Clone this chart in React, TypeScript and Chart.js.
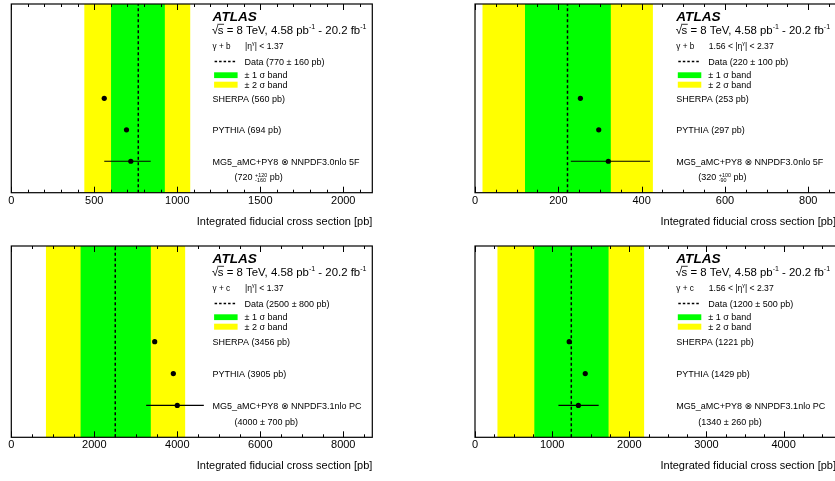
import React, { useEffect, useRef } from "react";
import { Chart, registerables } from "chart.js";

Chart.register(...registerables);

// ---------- data ----------
const processLabels = ["γ + b", "γ + b", "γ + c", "γ + c"];
const etaLow: (number | null)[] = [null, 1.56, null, 1.56];
const etaHigh = [1.37, 2.37, 1.37, 2.37];
const dataCentral = [770, 220, 2500, 1200];
const dataError = [160, 100, 800, 500];
const dataLine = [765, 222, 2505, 1248];
const band1Low = [601, 120, 1670, 769];
const band1High = [925, 326, 3362, 1731];
const band2Low = [440, 18, 835, 291];
const band2High = [1078, 427, 4190, 2192];
const sherpaValues = [560, 253, 3456, 1221];
const pythiaValues = [694, 297, 3905, 1429];
const mg5Values = [720, 320, 4000, 1340];
const mg5BarLow = [560, 230, 3250, 1081];
const mg5BarHigh = [840, 420, 4640, 1603];
const mg5LabelUp = [120, 100, 700, 260];
const mg5LabelDown = [160, 90, 700, 260];
const pdfNames = ["NNPDF3.0nlo 5F", "NNPDF3.0nlo 5F", "NNPDF3.1nlo PC", "NNPDF3.1nlo PC"];
const xMax = [2175, 866.5, 8700, 4679];
const majorTicks = [
  [0, 500, 1000, 1500, 2000],
  [0, 200, 400, 600, 800],
  [0, 2000, 4000, 6000, 8000],
  [0, 1000, 2000, 3000, 4000],
];
const majorStep = [500, 200, 2000, 1000];
const minorStep = [100, 50, 500, 250];
const axisTitle = "Integrated fiducial cross section [pb]";
const atlasLabel = "ATLAS";

// ---------- layout ----------
const FAMILY = '"Liberation Sans", Arial, Helvetica, "DejaVu Sans", sans-serif';
const W = 420;
const H = 240;

type Seg = { t?: string; s?: number; dy?: number; w?: string; st?: string; up?: string; down?: string };

function drawRich(ctx: CanvasRenderingContext2D, x: number, y: number, segs: Seg[], size: number) {
  let cx = x;
  for (const sg of segs) {
    const fs = size * (sg.s ?? 1);
    ctx.font = `${sg.st ?? "normal"} ${sg.w ?? "normal"} ${fs}px ${FAMILY}`;
    if (sg.up !== undefined || sg.down !== undefined) {
      const u = sg.up ?? "";
      const d = sg.down ?? "";
      ctx.fillText(u, cx, y - size * 0.42);
      ctx.fillText(d, cx, y + size * 0.22);
      cx += Math.max(ctx.measureText(u).width, ctx.measureText(d).width);
    } else {
      const t = sg.t ?? "";
      ctx.fillText(t, cx, y + (sg.dy ?? 0));
      cx += ctx.measureText(t).width;
    }
  }
  return cx;
}

function makePlugins(i: number) {
  const bands = {
    id: "bands" + i,
    beforeDatasetsDraw(chart: any) {
      const { ctx, chartArea, scales } = chart;
      const x = scales.x;
      ctx.save();
      ctx.beginPath();
      ctx.rect(chartArea.left, chartArea.top, chartArea.right - chartArea.left, chartArea.bottom - chartArea.top);
      ctx.clip();
      const fillBand = (lo: number, hi: number, color: string) => {
        const a = x.getPixelForValue(lo);
        const b = x.getPixelForValue(hi);
        ctx.fillStyle = color;
        ctx.fillRect(a, chartArea.top, b - a, chartArea.bottom - chartArea.top);
      };
      fillBand(band2Low[i], band2High[i], "#ffff00");
      fillBand(band1Low[i], band1High[i], "#00ff00");
      ctx.restore();
    },
  };
  const frame = {
    id: "frame" + i,
    afterDatasetsDraw(chart: any) {
      const { ctx, chartArea, scales } = chart;
      const x = scales.x;
      const { left, right, top, bottom } = chartArea;
      ctx.save();
      ctx.strokeStyle = "#000";
      ctx.lineWidth = 1.2;
      ctx.strokeRect(left, top, right - left, bottom - top);
      ctx.lineWidth = 1;
      const n = Math.floor(xMax[i] / minorStep[i] + 1e-9);
      const ratio = majorStep[i] / minorStep[i];
      ctx.beginPath();
      for (let k = 0; k <= n; k++) {
        const v = k * minorStep[i];
        const px = Math.round(x.getPixelForValue(v)) + 0.5;
        const len = k % ratio === 0 ? 6 : 3;
        ctx.moveTo(px, bottom);
        ctx.lineTo(px, bottom - len);
        ctx.moveTo(px, top);
        ctx.lineTo(px, top + len);
      }
      ctx.stroke();
      ctx.restore();
    },
  };
  const texts = {
    id: "texts" + i,
    afterDraw(chart: any) {
      const { ctx, chartArea, scales } = chart;
      const y = scales.y;
      const { left, top } = chartArea;
      const tx = left + 201.3;
      ctx.save();
      ctx.fillStyle = "#000";
      ctx.textAlign = "left";
      ctx.textBaseline = "alphabetic";

      // ATLAS
      ctx.font = `italic bold 13.6px ${FAMILY}`;
      ctx.fillText(atlasLabel, tx, top + 17);

      // sqrt(s) line
      const fs2 = 11.4;
      const b2 = top + 29.7;
      ctx.font = `normal normal ${fs2}px ${FAMILY}`;
      ctx.fillText("√", tx - 0.5, b2);
      const wr = ctx.measureText("√").width;
      const sx = tx - 0.5 + wr - 0.5;
      ctx.fillText("s", sx, b2);
      const ws = ctx.measureText("s").width;
      ctx.strokeStyle = "#000";
      ctx.lineWidth = 0.8;
      ctx.beginPath();
      ctx.moveTo(sx - 0.5, b2 - 9.4);
      ctx.lineTo(sx + ws + 0.5, b2 - 9.4);
      ctx.stroke();
      drawRich(
        ctx,
        sx + ws,
        b2,
        [
          { t: " = 8 TeV, 4.58 pb" },
          { t: "-1", s: 0.62, dy: -4.6 },
          { t: " - 20.2 fb" },
          { t: "-1", s: 0.62, dy: -4.6 },
        ],
        fs2
      );

      // process & eta range
      const b3 = top + 44.5;
      drawRich(ctx, tx, b3, [{ t: processLabels[i] }], 8.2);
      const etaSegs: Seg[] = [];
      if (etaLow[i] !== null) etaSegs.push({ t: `${etaLow[i]} < ` });
      etaSegs.push({ t: "|η" }, { t: "γ", s: 0.6, dy: -3.6 }, { t: `| < ${etaHigh[i]}` });
      drawRich(ctx, tx + 32.5, b3, etaSegs, 8.6);

      // legend: data line
      const b4 = top + 60.5;
      ctx.save();
      ctx.lineWidth = 1.3;
      ctx.setLineDash([2.5, 2]);
      ctx.beginPath();
      ctx.moveTo(tx + 2, top + 57.5);
      ctx.lineTo(tx + 24, top + 57.5);
      ctx.stroke();
      ctx.restore();
      drawRich(ctx, tx + 32, b4, [{ t: `Data (${dataCentral[i]} ± ${dataError[i]} pb)` }], 9);

      // band boxes
      ctx.fillStyle = "#00ff00";
      ctx.fillRect(tx + 1.5, top + 68.3, 23.5, 5.8);
      ctx.fillStyle = "#ffff00";
      ctx.fillRect(tx + 1.5, top + 77.7, 23.5, 6);
      ctx.fillStyle = "#000";
      drawRich(ctx, tx + 32, top + 74.3, [{ t: "± 1 σ band" }], 9);
      drawRich(ctx, tx + 32, top + 84, [{ t: "± 2 σ band" }], 9);

      // model labels
      const r3 = y.getPixelForValue(3) + 3.6;
      const r2 = y.getPixelForValue(2) + 3.6;
      const r1 = y.getPixelForValue(1) + 3.6;
      drawRich(ctx, tx, r3, [{ t: `SHERPA (${sherpaValues[i]} pb)` }], 9);
      drawRich(ctx, tx, r2, [{ t: `PYTHIA (${pythiaValues[i]} pb)` }], 9);
      drawRich(ctx, tx, r1, [{ t: `MG5_aMC+PY8 ⊗ ${pdfNames[i]}` }], 9);
      const r0 = r1 + 15.5;
      if (mg5LabelUp[i] === mg5LabelDown[i]) {
        drawRich(ctx, tx + 22, r0, [{ t: `(${mg5Values[i]} ± ${mg5LabelUp[i]} pb)` }], 9);
      } else {
        drawRich(
          ctx,
          tx + 22,
          r0,
          [
            { t: `(${mg5Values[i]} ` },
            { up: `+${mg5LabelUp[i]}`, down: `-${mg5LabelDown[i]}`, s: 0.6 },
            { t: " pb)" },
          ],
          9
        );
      }
      ctx.restore();
    },
  };
  return [bands, frame, texts];
}

function Panel({ i, left, top }: { i: number; left: number; top: number }) {
  const ref = useRef<HTMLCanvasElement>(null);
  useEffect(() => {
    const cv = ref.current;
    if (!cv) return;
    const yTop = i < 2 ? 2 : 6;
    const xLeft = i % 2 === 0 ? 11.3 : 55;
    const plotW = i % 2 === 0 ? 361 : 365;
    const plotH = i < 2 ? 190.7 : 191.3;
    const axisH = H - yTop - plotH;
    const chart = new Chart(cv, {
      type: "scatter",
      data: {
        datasets: [
          {
            type: "line",
            data: [
              { x: dataLine[i], y: 0 },
              { x: dataLine[i], y: 6 },
            ],
            borderColor: "#000",
            borderWidth: 1.5,
            borderDash: [3, 2.5],
            pointRadius: 0,
            showLine: true,
            fill: false,
          } as any,
          {
            type: "line",
            data: [
              { x: mg5BarLow[i], y: 1 },
              { x: mg5BarHigh[i], y: 1 },
            ],
            borderColor: "#000",
            borderWidth: 1.2,
            pointRadius: 0,
            showLine: true,
            fill: false,
          } as any,
          {
            type: "scatter",
            data: [
              { x: sherpaValues[i], y: 3 },
              { x: pythiaValues[i], y: 2 },
              { x: mg5Values[i], y: 1 },
            ],
            backgroundColor: "#000",
            borderColor: "#000",
            borderWidth: 0,
            pointRadius: 2.6,
          } as any,
        ],
      },
      options: {
        responsive: false,
        animation: false,
        devicePixelRatio: 1,
        layout: { padding: { left: xLeft, right: W - xLeft - plotW, top: yTop, bottom: 0 } },
        plugins: { legend: { display: false }, tooltip: { enabled: false } },
        events: [],
        scales: {
          x: {
            type: "linear",
            min: 0,
            max: xMax[i],
            grid: { display: false, drawTicks: false },
            border: { display: false },
            afterBuildTicks: (axis: any) => {
              axis.ticks = majorTicks[i].map((v) => ({ value: v }));
            },
            ticks: {
              padding: 1.4,
              color: "#000",
              autoSkip: false,
              maxRotation: 0,
              font: { family: FAMILY, size: 11 },
              callback: (v: any) => String(v),
            },
            title: {
              display: true,
              text: axisTitle,
              align: "end",
              color: "#000",
              font: { family: FAMILY, size: 11 },
              padding: { top: 0, bottom: axisH - 29 - 6.6 },
            },
            afterFit: (s: any) => {
              s.height = axisH;
            },
          },
          y: { type: "linear", min: 0, max: 6, display: false },
        },
      } as any,
      plugins: makePlugins(i) as any,
    });
    return () => chart.destroy();
  }, [i]);
  return (
    <canvas
      ref={ref}
      width={W}
      height={H}
      style={{ position: "absolute", left, top, width: W, height: H, display: "block" }}
    />
  );
}

export default function App() {
  return (
    <div
      style={{
        position: "fixed",
        left: 0,
        top: 0,
        width: 835,
        height: 481,
        overflow: "hidden",
        background: "#fff",
      }}
    >
      <Panel i={0} left={0} top={0} />
      <Panel i={1} left={420} top={0} />
      <Panel i={2} left={0} top={240} />
      <Panel i={3} left={420} top={240} />
    </div>
  );
}
